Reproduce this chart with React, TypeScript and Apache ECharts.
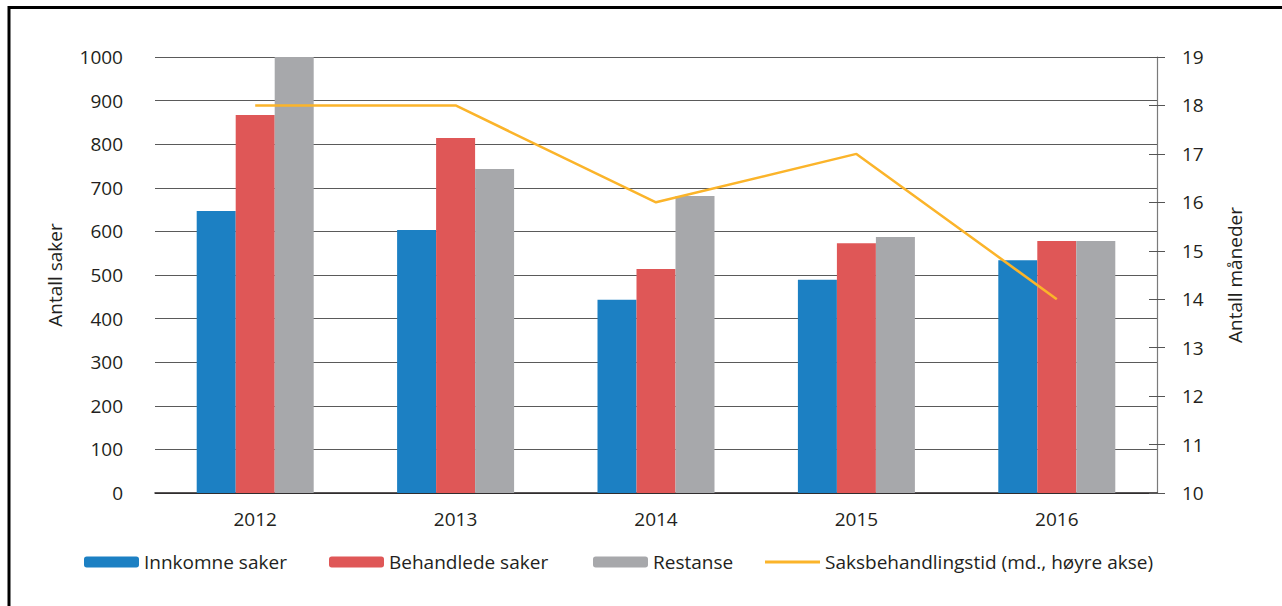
import React, { useEffect, useRef } from "react";
import * as echarts from "echarts";

const years = ["2012", "2013", "2014", "2015", "2016"];
const innkomne = [647, 603, 443, 489, 534];
const behandlede = [867, 814, 514, 573, 578];
const restanse = [1000, 743, 681, 587, 578];
const saksbehandlingstid = [18, 18, 16, 17, 14];

const FONT = "'Open Sans', sans-serif";
const TXT = "#231f20";
const FS = 19;

export default function App() {
  const ref = useRef<HTMLDivElement>(null);
  useEffect(() => {
    if (!ref.current) return;
    const chart = echarts.init(ref.current, undefined, { renderer: "svg" });
    const legendText = { color: TXT, fontSize: FS, fontFamily: FONT, lineHeight: 20 };
    const mkLegend = (name: string, left: number, extra: any = {}) => ({
      show: true,
      data: [name],
      left,
      top: 552,
      itemWidth: 55,
      itemHeight: 11,
      padding: 0,
      textStyle: legendText,
      ...extra,
    });
    chart.setOption({
      animation: false,
      textStyle: { fontFamily: FONT, color: TXT },
      grid: { left: 155, right: 125, top: 57, bottom: 113, containLabel: false },
      legend: [
        mkLegend("Innkomne saker", 84),
        mkLegend("Behandlede saker", 329),
        mkLegend("Restanse", 593),
        mkLegend("Saksbehandlingstid (md., høyre akse)", 765, {
          icon: "rect",
          itemHeight: 3,
          top: 552,
        }),
      ],
      xAxis: {
        type: "category",
        data: years,
        axisLine: { show: true, lineStyle: { color: TXT, width: 1.5 } },
        axisTick: { show: false },
        axisLabel: { color: TXT, fontSize: FS, fontFamily: FONT, margin: 16 },
      },
      yAxis: [
        {
          type: "value",
          min: 0,
          max: 1000,
          interval: 100,
          position: "left",
          name: "Antall saker",
          nameLocation: "middle",
          nameRotate: 90,
          nameGap: 91,
          nameTextStyle: { color: TXT, fontSize: FS, fontFamily: FONT },
          axisLine: { show: false },
          axisTick: { show: false },
          axisLabel: {
            color: TXT,
            fontSize: FS,
            fontFamily: FONT,
            margin: 32,
            formatter: (v: number) => String(v),
          },
          splitLine: { show: true, lineStyle: { color: "#5a5a5a", width: 1 } },
        },
        {
          type: "value",
          min: 10,
          max: 19,
          interval: 1,
          position: "right",
          name: "Antall måneder",
          nameLocation: "middle",
          nameRotate: 90,
          nameGap: 68,
          nameTextStyle: { color: TXT, fontSize: FS, fontFamily: FONT },
          axisLine: { show: true, lineStyle: { color: "#7a7a7a", width: 1.2 } },
          axisTick: { show: true, inside: false, length: 8, lineStyle: { color: "#555", width: 1 } },
          axisLabel: { color: TXT, fontSize: FS, fontFamily: FONT, margin: 25 },
          splitLine: { show: false },
        },
        {
          type: "value",
          min: 10,
          max: 19,
          interval: 1,
          position: "right",
          axisLine: { show: false },
          axisTick: { show: true, inside: true, length: 8, lineStyle: { color: "#555", width: 1 } },
          axisLabel: { show: false },
          splitLine: { show: false },
        },
      ],
      series: [
        {
          name: "Innkomne saker",
          type: "bar",
          data: innkomne,
          barWidth: 39,
          barGap: "0%",
          itemStyle: { color: "#1c80c3" },
        },
        {
          name: "Behandlede saker",
          type: "bar",
          data: behandlede,
          barWidth: 39,
          barGap: "0%",
          itemStyle: { color: "#df5757" },
        },
        {
          name: "Restanse",
          type: "bar",
          data: restanse,
          barWidth: 39,
          barGap: "0%",
          itemStyle: { color: "#a7a8ab" },
        },
        {
          name: "Saksbehandlingstid (md., høyre akse)",
          type: "line",
          yAxisIndex: 1,
          data: saksbehandlingstid,
          symbol: "none",
          z: 5,
          lineStyle: { color: "#fbb42a", width: 2.5 },
          itemStyle: { color: "#fbb42a" },
        },
      ],
      graphic: [
        {
          type: "rect",
          shape: { x: 9, y: 7.5, width: 1400, height: 800 },
          style: { fill: "none", stroke: "#000", lineWidth: 3 },
          silent: true,
        },
      ],
    });
    return () => chart.dispose();
  }, []);
  return (
    <div
      ref={ref}
      style={{ position: "fixed", left: 0, top: 0, width: 1282, height: 606, background: "#fff" }}
    />
  );
}
